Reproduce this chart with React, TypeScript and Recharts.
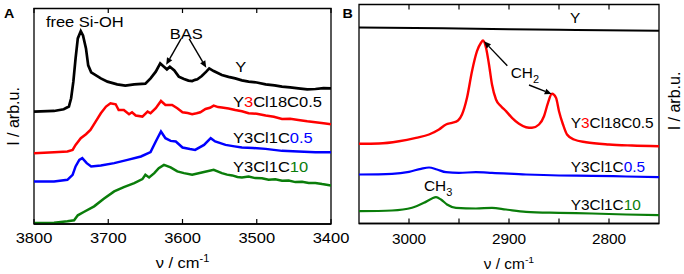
import React from 'react';
import { LineChart, Line, XAxis, YAxis, ReferenceDot, ReferenceLine, ReferenceArea } from 'recharts';

const FONT = '"Liberation Sans", Arial, Helvetica, sans-serif';
const SX = 1.1; // horizontal stretch of the reference's lettering

// ---- tick labels ----
const ticksA = [3800, 3700, 3600, 3500, 3400];
const ticksB = [3000, 2950, 2900, 2850, 2800];
const labelledTicksB = [3000, 2900, 2800];

// ---- Panel A (O-H region): [wavenumber, intensity (arb.u.)] ----
const aY = [
  [3800, 112.7], [3773, 113.3], [3760, 115], [3753, 117.7], [3750, 126], [3747, 142.7],
  [3744, 166], [3741, 186], [3737, 193.3], [3734, 189], [3730, 176], [3727, 159],
  [3723, 152], [3717, 149.3], [3710, 146], [3701, 142.7], [3688, 140], [3677, 138.7],
  [3665, 140], [3650, 140.7], [3643, 146], [3636, 152.7], [3630, 161], [3625, 157.7],
  [3621, 155], [3617, 157.7], [3611, 154], [3605, 147.7], [3598, 145.3], [3592, 143.7],
  [3587, 143.3], [3583, 144.5], [3580, 145], [3574, 148.3], [3568, 152.7], [3564, 156],
  [3558, 153.3], [3547, 149.3], [3538, 147.5], [3529, 146], [3520, 144], [3511, 142.7],
  [3500, 141.8], [3488, 140], [3476, 139], [3466, 137.7], [3455, 137], [3444, 136],
  [3432, 135], [3421, 135.3], [3410, 136.2], [3400, 136],
];
const aRed = [
  [3800, 71], [3773, 72], [3755, 72.7], [3748, 74.3], [3744, 79.3], [3737, 86], [3730, 90],
  [3724, 94.3], [3717, 102.7], [3710, 111], [3703, 117.7], [3697, 121], [3690, 120],
  [3686, 114.3], [3679, 114.3], [3672, 110], [3668, 112], [3663, 108.7], [3654, 107.7],
  [3647, 112.7], [3643, 111], [3636, 116], [3629, 123.3], [3623, 119.3], [3614, 119.3],
  [3607, 116], [3600, 112], [3593, 111.3], [3587, 110], [3581, 111], [3576, 112],
  [3569, 115.3], [3563, 116.5], [3558, 118.7], [3552, 117.2], [3547, 116.7], [3538, 115.8],
  [3529, 114.3], [3520, 113], [3511, 111], [3500, 110.5], [3488, 108.7], [3477, 107.5],
  [3466, 105.3], [3455, 105.5], [3444, 104.3], [3432, 103], [3421, 102], [3410, 101], [3400, 100],
];
const aBlue = [
  [3800, 42.7], [3773, 42.7], [3755, 44.3], [3748, 49.3], [3744, 57.7], [3739, 64.3],
  [3735, 66], [3729, 61], [3723, 57.7], [3710, 58.7], [3692, 61], [3674, 64.3], [3656, 67.7],
  [3643, 72], [3636, 82.7], [3629, 92.7], [3623, 86], [3616, 83.3], [3609, 82.7], [3600, 76.7],
  [3590, 75.2], [3583, 74.3], [3571, 79.3], [3562, 86], [3556, 82.7], [3542, 79.3],
  [3530, 77.8], [3520, 76.7], [3505, 76.2], [3488, 75.3], [3466, 73.3], [3444, 72.7],
  [3421, 72], [3400, 72],
];
const aGreen = [
  [3800, 1], [3773, 1.3], [3755, 2.7], [3746, 3.7], [3741, 8.7], [3733, 12], [3719, 17.7],
  [3706, 25.3], [3692, 32.7], [3679, 37], [3665, 41], [3654, 45], [3650, 49.3], [3645, 46.7],
  [3638, 51], [3632, 56], [3625, 59.3], [3616, 56.7], [3607, 52.7], [3598, 51], [3587, 49.3],
  [3574, 51.7], [3558, 54.3], [3547, 51], [3540, 49.5], [3533, 48.7], [3526, 47.2],
  [3520, 46.7], [3511, 47.5], [3502, 46], [3493, 45.8], [3484, 44.3], [3475, 44.8],
  [3466, 43.3], [3457, 43.5], [3448, 42], [3439, 42.4], [3430, 41], [3421, 41.2], [3412, 40],
  [3400, 38.7],
];

// ---- Panel B (C-H region) ----
const bY = [[3050, 196], [2950, 195], [2850, 193.7], [2750, 192.7]];
const bRed = [
  [3050, 79.7], [3030, 80], [3010, 82.3], [2993, 85.7], [2980, 89], [2970, 94], [2963, 99],
  [2957, 100.7], [2951, 103], [2947, 109], [2942, 125.7], [2937, 152.3], [2932, 172.3],
  [2928, 180.7], [2926, 183], [2923, 175.7], [2920, 159], [2917, 139], [2913, 124],
  [2908, 117.3], [2903, 112.3], [2897, 105.7], [2890, 99.7], [2883, 96.3], [2877, 95.7],
  [2870, 99], [2865, 107.3], [2861, 120.7], [2857, 129.7], [2853, 125.7], [2850, 112.3],
  [2846, 99], [2842, 89], [2835, 84], [2823, 81.3], [2800, 79], [2777, 78], [2750, 77.3],
];
const bBlue = [
  [3050, 49], [3017, 49.7], [3000, 51.7], [2988, 54.7], [2980, 56], [2972, 54], [2963, 51.3],
  [2950, 50.7], [2933, 51.3], [2917, 50.7], [2883, 49], [2850, 48], [2817, 47.7], [2783, 47],
  [2750, 46.3],
];
const bGreen = [
  [3050, 12.3], [3017, 13], [2997, 15.7], [2985, 20.7], [2977, 25], [2973, 26.3], [2968, 24],
  [2962, 19], [2953, 15.7], [2933, 15], [2917, 15.7], [2903, 14], [2883, 11.7], [2850, 10.7],
  [2817, 10], [2783, 9], [2750, 8.3],
];

const pts = (arr: number[][]) => arr.map(([nu, v]) => ({ nu, v }));

const RED = '#ff0000';
const BLUE = '#0000ff';
const GREEN = '#0a7d0a';

const PLOT_H_A = 216;
const PLOT_H_B = 219;

const T = ({ x, y, size, anchor = 'start', bold = false, children }: any) => (
  <text
    transform={`translate(${x},${y}) scale(${SX},1)`}
    x={0}
    y={0}
    fontFamily={FONT}
    fontSize={size}
    fontWeight={bold ? 'bold' : 'normal'}
    fill="#000"
    textAnchor={anchor}
  >
    {children}
  </text>
);

const Arrow = (props: any) => {
  const { x1, y1, x2, y2 } = props;
  const ang = Math.atan2(y2 - y1, x2 - x1);
  const L = 7;
  const w = 3;
  const bx = x2 - L * Math.cos(ang);
  const by = y2 - L * Math.sin(ang);
  const px = -Math.sin(ang) * w;
  const py = Math.cos(ang) * w;
  return (
    <g>
      <line x1={x1} y1={y1} x2={bx} y2={by} stroke="#000" strokeWidth={1.4} />
      <polygon points={`${x2},${y2} ${bx + px},${by + py} ${bx - px},${by - py}`} fill="#000" />
    </g>
  );
};

const textAt = (content: React.ReactNode, size: number, anchor: string = 'start') => (p: any) => (
  <T x={p.cx} y={p.cy} size={size} anchor={anchor}>
    {content}
  </T>
);

const xTicks = (labelled: number[] | null, plotH: number, size: number, off: number) => (p: any) => {
  const v = p.payload.value;
  const show = labelled ? labelled.includes(v) : true;
  return (
    <g>
      <line x1={p.x} y1={p.y} x2={p.x} y2={p.y - 5} stroke="#000" strokeWidth={1.2} />
      <line x1={p.x} y1={p.y - plotH} x2={p.x} y2={p.y - plotH + 5} stroke="#000" strokeWidth={1.2} />
      {show && (
        <T x={p.x} y={p.y + off} size={size} anchor="middle">
          {v}
        </T>
      )}
    </g>
  );
};

// axis titles, panel letters (drawn from the x-axis box)
const titlesA = (p: any) => {
  const vb = p.viewBox; // x-axis box: x = plot left, y = plot bottom
  const top = vb.y - PLOT_H_A;
  return (
    <g>
      <T x={vb.x + vb.width / 2} y={vb.y + 43.5} size={15} anchor="middle">
        ν / cm<tspan dy={-6} fontSize={10}>-1</tspan>
      </T>
      <T x={vb.x - 30} y={top + 10} size={13} bold>A</T>
      <text transform={`translate(${vb.x - 14.7},${top + 108.5}) rotate(-90)`} textAnchor="middle"
        fontFamily={FONT} fontSize={16} fill="#000">
        I / arb.u.
      </text>
    </g>
  );
};
const titlesB = (p: any) => {
  const vb = p.viewBox;
  const top = vb.y - PLOT_H_B;
  return (
    <g>
      <T x={vb.x + vb.width / 2} y={vb.y + 45.5} size={14} anchor="middle">
        ν / cm<tspan dy={-6} fontSize={9.5}>-1</tspan>
      </T>
      <T x={vb.x - 16.5} y={top + 13.5} size={13} bold>B</T>
      <text transform={`translate(${vb.x + vb.width + 21},${top + 96.5}) rotate(-90)`} textAnchor="middle"
        fontFamily={FONT} fontSize={16} fill="#000">
        I / arb.u.
      </text>
    </g>
  );
};

export default function App() {
  return (
    <div style={{ position: 'absolute', left: 0, top: 0, width: 684, height: 274, background: '#fff' }}>
      {/* Panel A */}
      <div style={{ position: 'absolute', left: 0, top: 0 }}>
        <LineChart width={360} height={274} margin={{ top: 8.5, right: 29, bottom: 0, left: 34 }}>
          <XAxis dataKey="nu" type="number" domain={[3400, 3800]} reversed ticks={ticksA}
            interval={0} height={50} tickSize={0} tickMargin={0} tickLine={false}
            axisLine={{ stroke: '#000', strokeWidth: 1.3 }}
            tick={xTicks(null, PLOT_H_A, 15, 18.5)} allowDataOverflow label={titlesA} />
          <YAxis type="number" domain={[0, PLOT_H_A]} hide allowDataOverflow />
          <ReferenceArea x1={3800} x2={3400} y1={0} y2={PLOT_H_A} fill="none" fillOpacity={0}
            stroke="#000" strokeWidth={1.3} ifOverflow="visible" />
          <Line data={pts(aGreen)} dataKey="v" stroke={GREEN} strokeWidth={2.5} dot={false} isAnimationActive={false} type="linear" />
          <Line data={pts(aBlue)} dataKey="v" stroke={BLUE} strokeWidth={2.5} dot={false} isAnimationActive={false} type="linear" />
          <Line data={pts(aRed)} dataKey="v" stroke={RED} strokeWidth={2.5} dot={false} isAnimationActive={false} type="linear" />
          <Line data={pts(aY)} dataKey="v" stroke="#000" strokeWidth={2.7} dot={false} isAnimationActive={false} type="linear" />
          <ReferenceLine segment={[{ x: 3602, y: 185.5 }, { x: 3622, y: 159.5 }]} shape={Arrow} />
          <ReferenceLine segment={[{ x: 3591, y: 185.5 }, { x: 3568, y: 156.5 }]} shape={Arrow} />
          <ReferenceDot x={3784} y={197.5} r={0} shape={textAt('free Si-OH', 15)} />
          <ReferenceDot x={3595} y={185.5} r={0} shape={textAt('BAS', 15, 'middle')} />
          <ReferenceDot x={3529} y={152.5} r={0} shape={textAt('Y', 15)} />
          <ReferenceDot x={3532} y={117.5} r={0}
            shape={textAt(<>Y<tspan fill={RED}>3</tspan>Cl18C0.5</>, 15)} />
          <ReferenceDot x={3532} y={81} r={0}
            shape={textAt(<>Y3Cl1C<tspan fill={BLUE}>0.5</tspan></>, 15)} />
          <ReferenceDot x={3532} y={52} r={0}
            shape={textAt(<>Y3Cl1C<tspan fill={GREEN}>10</tspan></>, 15)} />
        </LineChart>
      </div>
      {/* Panel B */}
      <div style={{ position: 'absolute', left: 342, top: 0 }}>
        <LineChart width={342} height={274} margin={{ top: 4.5, right: 25, bottom: 0, left: 17 }}>
          <XAxis dataKey="nu" type="number" domain={[2750, 3050]} reversed ticks={ticksB}
            interval={0} height={50.5} tickSize={0} tickMargin={0} tickLine={false}
            axisLine={{ stroke: '#000', strokeWidth: 1.3 }}
            tick={xTicks(labelledTicksB, PLOT_H_B, 14, 20)} allowDataOverflow label={titlesB} />
          <YAxis type="number" domain={[0, PLOT_H_B]} hide allowDataOverflow />
          <ReferenceArea x1={3050} x2={2750} y1={0} y2={PLOT_H_B} fill="none" fillOpacity={0}
            stroke="#000" strokeWidth={1.3} ifOverflow="visible" />
          <Line data={pts(bGreen)} dataKey="v" stroke={GREEN} strokeWidth={2.2} dot={false} isAnimationActive={false} type="monotoneX" />
          <Line data={pts(bBlue)} dataKey="v" stroke={BLUE} strokeWidth={2.2} dot={false} isAnimationActive={false} type="monotoneX" />
          <Line data={pts(bRed)} dataKey="v" stroke={RED} strokeWidth={2.4} dot={false} isAnimationActive={false} type="monotoneX" />
          <Line data={pts(bY)} dataKey="v" stroke="#000" strokeWidth={2} dot={false} isAnimationActive={false} type="monotoneX" />
          <ReferenceLine segment={[{ x: 2901.7, y: 157.8 }, { x: 2925, y: 182.2 }]} shape={Arrow} />
          <ReferenceLine segment={[{ x: 2880, y: 138.5 }, { x: 2857.3, y: 129.5 }]} shape={Arrow} />
          <ReferenceDot x={2839} y={201} r={0} shape={textAt('Y', 14)} />
          <ReferenceDot x={2898.3} y={146} r={0}
            shape={textAt(<>CH<tspan dy={5} fontSize={10}>2</tspan></>, 14)} />
          <ReferenceDot x={2838.3} y={95.5} r={0}
            shape={textAt(<>Y<tspan fill={RED}>3</tspan>Cl18C0.5</>, 14)} />
          <ReferenceDot x={2838.3} y={51.5} r={0}
            shape={textAt(<>Y3Cl1C<tspan fill={BLUE}>0.5</tspan></>, 14)} />
          <ReferenceDot x={2985} y={32.5} r={0}
            shape={textAt(<>CH<tspan dy={5} fontSize={10}>3</tspan></>, 14)} />
          <ReferenceDot x={2838.3} y={14} r={0}
            shape={textAt(<>Y3Cl1C<tspan fill={GREEN}>10</tspan></>, 14)} />
        </LineChart>
      </div>
    </div>
  );
}
